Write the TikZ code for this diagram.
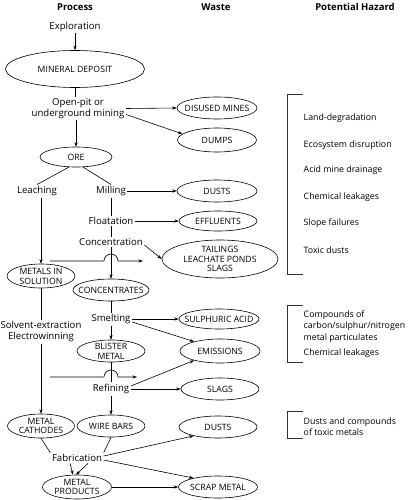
\documentclass[tikz,border=0pt]{standalone}
\usepackage{fontspec}
\setmainfont{Open Sans}
\usetikzlibrary{shapes.geometric,arrows.meta}
\begin{document}
\begin{tikzpicture}[x=1pt,y=-1pt,
  every node/.style={font=\fontsize{9.6}{11}\selectfont, inner sep=1.5pt, align=center},
  wst/.style={ellipse, draw, line width=0.6pt, inner sep=-40pt, font=\fontsize{8.7}{9.8}\selectfont},
  hdr/.style={font=\bfseries\fontsize{9.5}{11}\selectfont},
  haz/.style={anchor=west, align=left, font=\fontsize{8.8}{11.5}\selectfont},
  arr/.style={-{Stealth[length=4.5pt,width=3.2pt]}, line width=0.6pt},
  ln/.style={line width=0.6pt},
  brk/.style={line width=0.6pt, black!80},
]
\useasboundingbox (0,0) rectangle (412,500);

% headers
\node[hdr] (hP) at (75,7) {Process};
\node[hdr] (hW) at (216,7) {Waste};
\node[hdr] (hH) at (355,7) {Potential Hazard};

% process column
\node (expl) at (75,27) {Exploration};
\node[wst, minimum width=139pt, minimum height=37pt] (md) at (75,69) {MINERAL DEPOSIT};
\node (mine) at (78,108.5) {Open-pit or\\underground mining};
\node[wst, minimum width=72pt, minimum height=20pt] (ore) at (76,157) {ORE};
\node (leach) at (37,191) {Leaching};
\node (mill) at (111,191) {Milling};
\node (flot) at (111,221) {Floatation};
\node (conc) at (111,242) {Concentration};
\node[wst, minimum width=68pt, minimum height=24pt] (mis) at (41,276) {METALS IN\\SOLUTION};
\node[wst, minimum width=76pt, minimum height=22pt] (cts) at (111,290) {CONCENTRATES};
\node (smel) at (111,319) {Smelting};
\node (solv) at (41,332) {Solvent-extraction\\Electrowinning};
\node[wst, minimum width=68pt, minimum height=22pt] (bm) at (111,351) {BLISTER\\METAL};
\node (ref) at (111,389) {Refining};
\node[wst, minimum width=67pt, minimum height=24pt] (mc) at (41,426) {METAL\\CATHODES};
\node[wst, minimum width=68pt, minimum height=22pt] (wb) at (111,426) {WIRE BARS};
\node (fab) at (77,458) {Fabrication};
\node[wst, minimum width=69pt, minimum height=24pt] (mp) at (77,487) {METAL\\PRODUCTS};

% waste column
\node[wst, minimum width=80pt, minimum height=22pt] (dm) at (217,108) {DISUSED MINES};
\node[wst, minimum width=79pt, minimum height=24pt] (dmp) at (217,140) {DUMPS};
\node[wst, minimum width=80pt, minimum height=22pt] (du1) at (217,191) {DUSTS};
\node[wst, minimum width=78pt, minimum height=20pt] (eff) at (218,221) {EFFLUENTS};
\node[wst, minimum width=116pt, minimum height=38pt] (tail) at (220,259) {TAILINGS\\LEACHATE PONDS\\SLAGS};
\node[wst, minimum width=80pt, minimum height=20pt] (sa) at (219,319) {SULPHURIC ACID};
\node[wst, minimum width=80pt, minimum height=24pt] (em) at (220,351) {EMISSIONS};
\node[wst, minimum width=78pt, minimum height=22pt] (sl) at (220,389) {SLAGS};
\node[wst, minimum width=78pt, minimum height=22pt] (du2) at (218,427) {DUSTS};
\node[wst, minimum width=79pt, minimum height=22pt] (sm) at (218,487) {SCRAP METAL};

% hazards
\node[haz] (z1) at (302,118) {Land-degradation};
\node[haz] (z2) at (302,145) {Ecosystem disruption};
\node[haz] (z3) at (302,170) {Acid mine drainage};
\node[haz] (z4) at (302,197) {Chemical leakages};
\node[haz] (z5) at (302,223) {Slope failures};
\node[haz] (z6) at (302,250) {Toxic dusts};
\node[haz] (z7) at (302,326.5) {Compounds of\\carbon/sulphur/nitrogen\\metal particulates};
\node[haz] (z8) at (302,353) {Chemical leakages};
\node[haz] (z9) at (302,426.5) {Dusts and compounds\\of toxic metals};

\draw[brk] (303,94) -- (287,94) -- (287,274) -- (303,274);
\draw[brk] (303,305) -- (287,305) -- (287,362) -- (303,362);
\draw[brk] (303,411) -- (287,411) -- (287,438) -- (303,438);

% connectors, process chain
\draw[arr] (expl) -- (md);
\draw[ln] (md.south) -- (md.south |- mine.north);
\draw[arr] (mine.south -| ore.north) -- (ore.north);
\draw[ln] (ore.235) -- (leach.north);
\draw[ln] (ore.305) -- (mill.north);
\draw[arr] (leach.south -| mis.north) -- (mis.north);
\draw[ln] (mill) -- (flot);
\draw[ln] (flot) -- (conc);
\draw[arr] (conc) -- (cts);
\draw[ln] (cts) -- (smel);
\draw[arr] (smel) -- (bm);
\draw[ln] (bm) -- (ref);
\draw[arr] (ref) -- (wb);
\draw[ln] (mis) -- (solv);
\draw[arr] (solv) -- (mc);
\draw[ln] (mc.south) -- (fab.north west);
\draw[ln] (wb.south) -- (fab.north east);
\draw[arr] ([xshift=-7pt]fab.south) -- ([xshift=-4pt]mp.north);
\draw[arr] ([xshift=11pt]fab.south) -- ([xshift=-1pt]mp.north);

% connectors to waste
\draw[arr] (mine.east) -- (dm.west);
\draw[arr] ([yshift=-6pt]mine.east) -- (dmp.170);
\draw[arr] (mill) -- (du1);
\draw[arr] (flot) -- (eff);
\draw[arr] ([yshift=-3pt]conc.east) -- (tail.west);
\draw[arr] (smel) -- (sa);
\draw[arr] ([yshift=-3pt]smel.east) -- (em.160);
\draw[arr] ([yshift=3pt]ref.east) -- (em.200);
\draw[arr] (ref) -- (sl);
\draw[arr] ([yshift=2pt]fab.east) -- (du2.200);
\draw[arr] ([yshift=-2pt]fab.east) -- (sm.160);
\draw[arr] (mp) -- (sm);

% hop-over lines
\coordinate (h1a) at (50,261);
\coordinate (h1b) at (143,261);
\draw[arr] (h1a) -- ([xshift=-7pt]h1a -| cts.north) arc[start angle=180, end angle=0, radius=7pt] -- (h1b);
\coordinate (h2a) at (50,377);
\coordinate (h2b) at (137,377);
\draw[arr] (h2a) -- ([xshift=-7pt]h2a -| bm.south) arc[start angle=180, end angle=0, radius=7pt] -- (h2b);
\end{tikzpicture}
\end{document}
